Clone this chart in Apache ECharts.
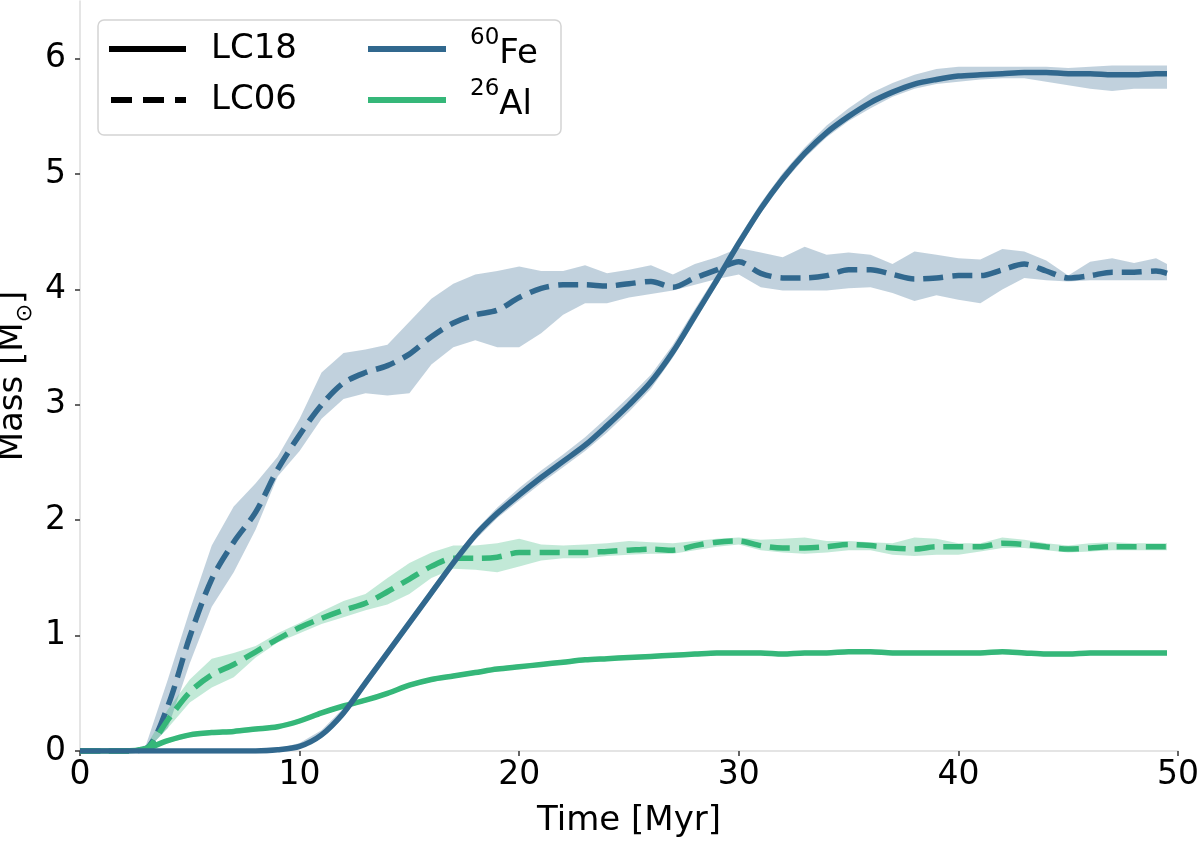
<!DOCTYPE html>
<html>
<head>
<meta charset="utf-8">
<script src="https://cdn.jsdelivr.net/npm/echarts@6/dist/echarts.min.js"></script>
<style>
  html, body { margin: 0; padding: 0; background: #fff; }
  #chart { width: 1200px; height: 844px; }
</style>
</head>
<body>
<div id="chart"></div>
<script>
// ---------------- data ----------------
const time = [0,1,2,3,4,5,6,7,8,9,10,11,12,13,14,15,16,17,18,19,20,21,22,23,24,25,26,27,28,29,30,31,32,33,34,35,36,37,38,39,40,41,42,43,44,45,46,47,48,49,49.5];

// 60Fe, LC18 (solid)
const fe18   = [0,0,0,0,0,0,0,0,0,0.01,0.04,0.14,0.33,0.59,0.85,1.11,1.37,1.63,1.87,2.06,2.22,2.37,2.51,2.65,2.82,3.00,3.20,3.46,3.77,4.08,4.40,4.70,4.96,5.18,5.36,5.50,5.62,5.71,5.78,5.82,5.85,5.86,5.87,5.88,5.88,5.87,5.87,5.86,5.86,5.87,5.87];
const fe18Hi = [0,0,0,0,0,0,0,0,0,0.02,0.07,0.18,0.37,0.63,0.89,1.15,1.41,1.67,1.91,2.11,2.28,2.43,2.57,2.72,2.89,3.07,3.26,3.52,3.83,4.13,4.45,4.75,5.01,5.23,5.42,5.57,5.70,5.79,5.86,5.91,5.93,5.93,5.93,5.93,5.93,5.92,5.93,5.94,5.94,5.94,5.94];
const fe18Lo = [0,0,0,0,0,0,0,0,0,0,0.02,0.11,0.29,0.55,0.81,1.07,1.33,1.59,1.83,2.02,2.17,2.32,2.46,2.60,2.76,2.94,3.14,3.41,3.72,4.04,4.36,4.66,4.92,5.14,5.32,5.46,5.57,5.67,5.74,5.78,5.80,5.82,5.83,5.83,5.80,5.77,5.74,5.72,5.74,5.74,5.74];

// 60Fe, LC06 (dashed)
const fe06   = [0,0,0,0.02,0.39,0.99,1.49,1.81,2.07,2.44,2.74,3.00,3.19,3.28,3.34,3.44,3.59,3.71,3.78,3.82,3.93,4.01,4.04,4.04,4.03,4.05,4.07,4.02,4.10,4.17,4.24,4.14,4.10,4.10,4.12,4.17,4.17,4.13,4.09,4.10,4.12,4.12,4.17,4.22,4.16,4.10,4.12,4.15,4.15,4.16,4.14];
const fe06Hi = [0,0,0,0.05,0.62,1.22,1.78,2.12,2.32,2.55,2.88,3.28,3.45,3.48,3.52,3.72,3.92,4.05,4.13,4.16,4.20,4.16,4.16,4.21,4.14,4.17,4.21,4.13,4.22,4.28,4.36,4.32,4.28,4.37,4.30,4.32,4.30,4.22,4.33,4.30,4.27,4.26,4.35,4.33,4.25,4.12,4.24,4.27,4.23,4.27,4.22];
const fe06Lo = [0,0,0,0,0.20,0.76,1.25,1.55,1.92,2.38,2.60,2.88,3.05,3.10,3.08,3.10,3.35,3.50,3.56,3.50,3.50,3.62,3.78,3.88,3.88,3.93,3.96,3.99,4.04,4.09,4.13,4.02,3.99,3.99,3.99,4.01,4.02,3.97,3.90,3.95,3.91,3.88,4.00,4.10,4.08,4.07,4.08,4.08,4.08,4.08,4.08];

// 26Al, LC18 (solid)
const al18   = [0,0,0,0.02,0.09,0.14,0.16,0.17,0.19,0.21,0.26,0.33,0.39,0.44,0.50,0.57,0.62,0.65,0.68,0.71,0.73,0.75,0.77,0.79,0.80,0.81,0.82,0.83,0.84,0.85,0.85,0.85,0.84,0.85,0.85,0.86,0.86,0.85,0.85,0.85,0.85,0.85,0.86,0.85,0.84,0.84,0.85,0.85,0.85,0.85,0.85];
const al18Hi = [0,0,0,0.03,0.11,0.16,0.18,0.19,0.21,0.23,0.28,0.35,0.41,0.46,0.52,0.59,0.64,0.67,0.70,0.73,0.75,0.77,0.79,0.81,0.82,0.83,0.84,0.85,0.86,0.87,0.87,0.87,0.86,0.87,0.87,0.88,0.88,0.87,0.87,0.87,0.87,0.87,0.88,0.87,0.86,0.86,0.87,0.87,0.87,0.87,0.87];
const al18Lo = [0,0,0,0.01,0.07,0.12,0.14,0.15,0.17,0.19,0.24,0.31,0.37,0.42,0.48,0.55,0.60,0.63,0.66,0.69,0.71,0.73,0.75,0.77,0.78,0.79,0.80,0.81,0.82,0.83,0.83,0.83,0.82,0.83,0.83,0.84,0.84,0.83,0.83,0.83,0.83,0.83,0.84,0.83,0.82,0.82,0.83,0.83,0.83,0.83,0.83];

// 26Al, LC06 (dashed)
const al06   = [0,0,0,0.02,0.27,0.51,0.66,0.75,0.86,0.97,1.07,1.15,1.22,1.28,1.38,1.49,1.60,1.67,1.67,1.68,1.72,1.72,1.72,1.72,1.73,1.74,1.75,1.74,1.78,1.81,1.82,1.78,1.76,1.76,1.77,1.79,1.78,1.76,1.75,1.77,1.77,1.77,1.80,1.79,1.77,1.75,1.76,1.77,1.77,1.77,1.77];
const al06Hi = [0,0,0,0.04,0.36,0.62,0.80,0.85,0.91,1.02,1.11,1.21,1.30,1.36,1.50,1.63,1.72,1.78,1.78,1.80,1.84,1.79,1.78,1.79,1.80,1.82,1.81,1.80,1.82,1.84,1.85,1.83,1.84,1.85,1.82,1.82,1.81,1.80,1.85,1.84,1.80,1.80,1.85,1.83,1.80,1.78,1.80,1.81,1.80,1.80,1.80];
const al06Lo = [0,0,0,0,0.20,0.42,0.55,0.64,0.81,0.94,1.02,1.10,1.16,1.22,1.27,1.36,1.50,1.58,1.57,1.55,1.60,1.65,1.67,1.67,1.69,1.70,1.71,1.71,1.74,1.77,1.79,1.74,1.72,1.71,1.72,1.74,1.74,1.70,1.69,1.70,1.70,1.73,1.76,1.76,1.74,1.72,1.73,1.74,1.74,1.74,1.74];

const xTicks = [0,10,20,30,40,50];
const yTicks = [0,1,2,3,4,5,6];

// ---------------- styling ----------------
const FE = '#31688e';
const AL = '#35b779';
const FONT = 'DejaVu Sans';
const LW = 5.5;
const DASH = [20, 9];

function pairs(ys) { return time.map((t, i) => [t, ys[i]]); }

function band(name, lo, hi, color) {
  return {
    type: 'custom', name: name, silent: true, z: 1,
    clip: true,
    data: time.map((t, i) => [t, lo[i], hi[i]]),
    encode: { x: 0, y: [1, 2] },
    renderItem: function (params, api) {
      if (params.dataIndex !== 0) return null;
      const pts = [];
      for (let i = 0; i < time.length; i++) pts.push(api.coord([time[i], hi[i]]));
      for (let i = time.length - 1; i >= 0; i--) pts.push(api.coord([time[i], lo[i]]));
      return { type: 'polygon', shape: { points: pts }, style: { fill: color, opacity: 0.3 } };
    }
  };
}

function line(name, ys, color, dashed, z) {
  return {
    type: 'line', name: name, data: pairs(ys), showSymbol: false, symbol: 'none',
    smooth: 0.3, z: z, silent: true,
    lineStyle: { color: color, width: LW, type: dashed ? DASH : 'solid', cap: 'butt' },
    emphasis: { disabled: true }
  };
}

const chart = echarts.init(document.getElementById('chart'), null, { renderer: 'canvas' });

const legendItems = [
  { type: 'rect', shape: { x: 98, y: 20, width: 463, height: 115, r: 6 },
    style: { fill: 'rgba(255,255,255,0.85)', stroke: '#d4d4d4', lineWidth: 1.5 }, z: 100 },
  { type: 'line', shape: { x1: 109, y1: 49, x2: 186, y2: 49 }, style: { stroke: '#000', lineWidth: 6 }, z: 101 },
  { type: 'line', shape: { x1: 111, y1: 100, x2: 186, y2: 100 }, style: { stroke: '#000', lineWidth: 6, lineDash: [21, 11] }, z: 101 },
  { type: 'line', shape: { x1: 368, y1: 49, x2: 446, y2: 49 }, style: { stroke: FE, lineWidth: 6 }, z: 101 },
  { type: 'line', shape: { x1: 368, y1: 100, x2: 446, y2: 100 }, style: { stroke: AL, lineWidth: 6 }, z: 101 },
  { type: 'text', x: 211, y: 49, z: 101,
    style: { text: 'LC18', font: '34px "DejaVu Sans"', fill: '#000', verticalAlign: 'middle', align: 'left' } },
  { type: 'text', x: 211, y: 100, z: 101,
    style: { text: 'LC06', font: '34px "DejaVu Sans"', fill: '#000', verticalAlign: 'middle', align: 'left' } },
  { type: 'text', x: 470, y: 49, z: 101,
    style: { text: '{s|60}{n|Fe}', verticalAlign: 'middle', align: 'left', fill: '#000',
      rich: { s: { fontSize: 23, fontFamily: FONT, lineHeight: 22, verticalAlign: 'top' },
              n: { fontSize: 34, fontFamily: FONT, lineHeight: 44, verticalAlign: 'bottom' } } } },
  { type: 'text', x: 470, y: 100, z: 101,
    style: { text: '{s|26}{n|Al}', verticalAlign: 'middle', align: 'left', fill: '#000',
      rich: { s: { fontSize: 23, fontFamily: FONT, lineHeight: 22, verticalAlign: 'top' },
              n: { fontSize: 34, fontFamily: FONT, lineHeight: 44, verticalAlign: 'bottom' } } } }
];

const option = {
  animation: false,
  backgroundColor: '#ffffff',
  textStyle: { fontFamily: FONT },
  grid: { left: 80, right: 22, top: 1, bottom: 93, containLabel: false, outerBoundsMode: 'none' },
  xAxis: {
    type: 'value', min: 0, max: 50, interval: 10,
    name: 'Time [Myr]', nameLocation: 'middle', nameGap: 53, nameMoveOverlap: false,
    nameTextStyle: { fontSize: 34, color: '#000', fontFamily: FONT },
    axisLine: { show: true, onZero: false, lineStyle: { color: '#dcdcdc', width: 1.5 } },
    axisTick: { show: true, length: 5, lineStyle: { color: '#333', width: 1.5 }, customValues: xTicks },
    axisLabel: { fontSize: 33, color: '#000', fontFamily: FONT, margin: 8, customValues: xTicks },
    splitLine: { show: false }
  },
  yAxis: {
    type: 'value', min: 0, max: 6.5, interval: 1,
    name: '{n|Mass [M}{b|⊙}{n|]}', nameLocation: 'middle', nameGap: 44, nameRotate: 90,
    nameMoveOverlap: false,
    nameTextStyle: { color: '#000', fontFamily: FONT,
      rich: { n: { fontSize: 34, fontFamily: FONT, lineHeight: 40, verticalAlign: 'top' },
              b: { fontSize: 22, fontFamily: FONT, lineHeight: 26, verticalAlign: 'bottom' } } },
    axisLine: { show: true, lineStyle: { color: '#dcdcdc', width: 1.5 } },
    axisTick: { show: true, length: 5, lineStyle: { color: '#333', width: 1.5 }, customValues: yTicks },
    axisLabel: { fontSize: 33, color: '#000', fontFamily: FONT, margin: 14, customValues: yTicks },
    splitLine: { show: false }
  },
  graphic: legendItems,
  series: [
    band('fe18 band', fe18Lo, fe18Hi, FE),
    band('fe06 band', fe06Lo, fe06Hi, FE),
    band('al18 band', al18Lo, al18Hi, AL),
    band('al06 band', al06Lo, al06Hi, AL),
    line('60Fe LC06', fe06, FE, true, 3),
    line('26Al LC06', al06, AL, true, 3),
    line('26Al LC18', al18, AL, false, 4),
    line('60Fe LC18', fe18, FE, false, 5)
  ]
};

chart.setOption(option);
</script>
</body>
</html>
